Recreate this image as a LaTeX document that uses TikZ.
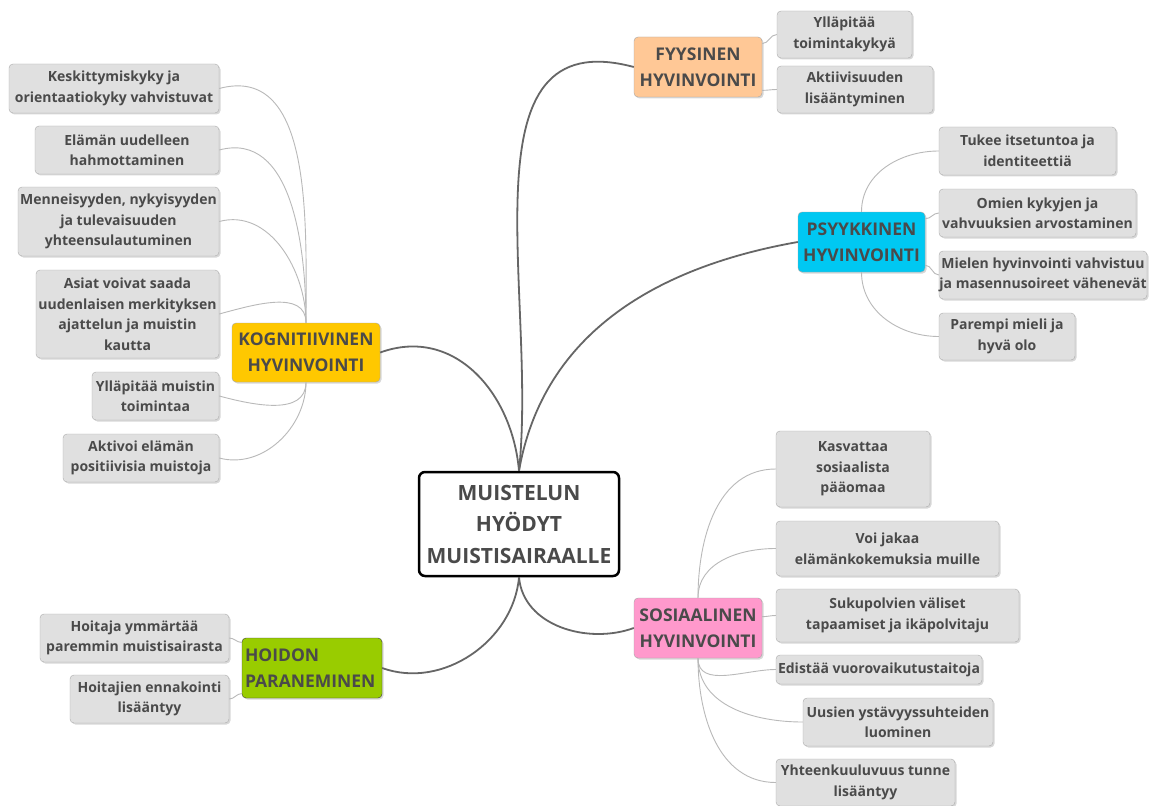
\documentclass[tikz,border=0pt]{standalone}
\usepackage{fontspec}
\setmainfont{Open Sans}
\usepackage{xcolor}
\usetikzlibrary{positioning, shadows}

\definecolor{inkgray}{HTML}{4A4A4A}
\definecolor{leafgray}{HTML}{E0E0E0}
\definecolor{kogyellow}{HTML}{FFC800}
\definecolor{fyyorange}{HTML}{FFC896}
\definecolor{psycyan}{HTML}{00C8F2}
\definecolor{sospink}{HTML}{FF99CC}
\definecolor{hoigreen}{HTML}{99CC00}

\begin{document}
\begin{tikzpicture}[x=1pt, y=1pt,
  leaf/.style={draw=gray!65, fill=leafgray, rounded corners=4pt, inner sep=0pt,
    font=\fontsize{14}{20.5}\selectfont\bfseries, text=inkgray, align=center,
    drop shadow={shadow xshift=1.5pt, shadow yshift=-1.5pt, fill=gray!60, opacity=.5}},
  topic/.style={draw=black!35, rounded corners=4pt, inner sep=1pt,
    minimum width=128, minimum height=60,
    font=\fontsize{17.5}{26}\selectfont\bfseries, text=inkgray, align=center,
    drop shadow={shadow xshift=1.5pt, shadow yshift=-1.5pt, fill=gray!60, opacity=.5}},
  hub/.style={draw=black, line width=2.5pt, fill=white, rounded corners=6pt,
    minimum width=200, minimum height=104, inner sep=1pt,
    font=\fontsize{21}{31.5}\selectfont\bfseries, text=inkgray, align=center},
  twig/.style={draw=gray!55, line width=0.9pt},
  branch/.style={draw=black!60, line width=1.8pt}
]

  \useasboundingbox (0,0) rectangle (1158,-805);
  \fill[white] (0,0) rectangle (1158,-805);

  % Centre
  \node[hub] (hub) at (519,-524) {MUISTELUN\\HYÖDYT\\MUISTISAIRAALLE};

  % Main topics
  \node[topic, fill=kogyellow, minimum width=148, minimum height=59] (kog) at (306,-352.5) {KOGNITIIVINEN\\HYVINVOINTI};
  \node[topic, fill=fyyorange] (fyy) at (698,-67) {FYYSINEN\\HYVINVOINTI};
  \node[topic, fill=psycyan, minimum width=127] (psy) at (861.5,-242) {PSYYKKINEN\\HYVINVOINTI};
  \node[topic, fill=sospink] (sos) at (698,-628) {SOSIAALINEN\\HYVINVOINTI};
  \node[topic, fill=hoigreen, draw=black!75, minimum width=140, align=left, text width=134] (hoi) at (312,-668) {HOIDON\\PARANEMINEN};

  % Kognitiivinen hyvinvointi
  \node[leaf, minimum width=210, minimum height=49] (k1) at (114,-88.5) {Keskittymiskyky ja\\orientaatiokyky vahvistuvat};
  \node[leaf, minimum width=184, minimum height=48] (k2) at (127,-150) {Elämän uudelleen\\hahmottaminen};
  \node[leaf, minimum width=201, minimum height=69] (k3) at (118.5,-221.5) {Menneisyyden, nykyisyyden\\ja tulevaisuuden\\yhteensulautuminen};
  \node[leaf, minimum width=183, minimum height=88] (k4) at (127.5,-314) {Asiat voivat saada\\uudenlaisen merkityksen\\ajattelun ja muistin\\kautta};
  \node[leaf, minimum width=127, minimum height=48] (k5) at (155.5,-396) {Ylläpitää muistin\\toimintaa};
  \node[leaf, minimum width=156, minimum height=48] (k6) at (141,-458) {Aktivoi elämän\\positiivisia muistoja};

  % Fyysinen hyvinvointi
  \node[leaf, minimum width=135, minimum height=47] (f1) at (844.5,-34.5) {Ylläpitää\\toimintakykyä};
  \node[leaf, minimum width=156, minimum height=47] (f2) at (855,-89.5) {Aktiivisuuden\\lisääntyminen};

  % Psyykkinen hyvinvointi
  \node[leaf, minimum width=177, minimum height=48] (p1) at (1027.5,-151) {Tukee itsetuntoa ja\\identiteettiä};
  \node[leaf, minimum width=197, minimum height=48] (p2) at (1037.5,-213) {Omien kykyjen ja\\vahvuuksien arvostaminen};
  \node[leaf, minimum width=208, minimum height=48] (p3) at (1043,-275) {Mielen hyvinvointi vahvistuu\\ja masennusoireet vähenevät};
  \node[leaf, minimum width=136, minimum height=47] (p4) at (1007,-336.5) {Parempi mieli ja\\hyvä olo};

  % Sosiaalinen hyvinvointi
  \node[leaf, minimum width=154, minimum height=76] (s1) at (853,-469) {Kasvattaa\\sosiaalista\\pääomaa};
  \node[leaf, minimum width=223, minimum height=55] (s2) at (887.5,-548.5) {Voi jakaa\\elämänkokemuksia muille};
  \node[leaf, minimum width=243, minimum height=53] (s3) at (897.5,-615.5) {Sukupolvien väliset\\tapaamiset ja ikäpolvitaju};
  \node[leaf, minimum width=206, minimum height=29] (s4) at (879,-669.5) {Edistää vuorovaikutustaitoja};
  \node[leaf, minimum width=190, minimum height=48] (s5) at (898,-722) {Uusien ystävyyssuhteiden\\luominen};
  \node[leaf, minimum width=179, minimum height=47] (s6) at (865.5,-782.5) {Yhteenkuuluvuus tunne\\lisääntyy};

  % Hoidon paraneminen
  \node[leaf, minimum width=189, minimum height=48] (h1) at (134.5,-638) {Hoitaja ymmärtää\\paremmin muistisairasta};
  \node[leaf, minimum width=159, minimum height=48] (h2) at (149.5,-699) {Hoitajien ennakointi\\lisääntyy};

  % Branches from the centre
  \draw[branch] (hub.north) to[out=95, in=20, looseness=1.1] (kog.east);
  \draw[branch] (hub.north) to[out=84, in=165, looseness=1.1] (fyy.west);
  \draw[branch] (hub.north) to[out=80, in=190] (psy.west);
  \draw[branch] (hub.south) to[out=-85, in=200] (sos.west);
  \draw[branch] (hub.south) to[out=-95, in=-20] (hoi.east);

  % Twigs
  \foreach \leaf in {k1,k2,k3,k4}
    \draw[twig] (\leaf.east) to[out=15, in=90] (kog.north);
  \foreach \leaf in {k5,k6}
    \draw[twig] (\leaf.east) to[out=-15, in=-90] (kog.south);
  \draw[twig] (fyy.20) to[out=0, in=180] (f1.west);
  \draw[twig] (fyy.-20) to[out=0, in=180] (f2.west);
  \draw[twig] (psy.north) to[out=90, in=180] (p1.west);
  \draw[twig] (psy.20) to[out=0, in=180] (p2.west);
  \draw[twig] (psy.-20) to[out=0, in=180] (p3.west);
  \draw[twig] (psy.south) to[out=-90, in=180] (p4.west);
  \foreach \leaf in {s1,s2}
    \draw[twig] (sos.north) to[out=90, in=180] (\leaf.west);
  \draw[twig] (sos.10) to[out=0, in=180] (s3.west);
  \foreach \leaf in {s4,s5,s6}
    \draw[twig] (sos.south) to[out=-90, in=180] (\leaf.west);
  \draw[twig] (h1.east) to[out=0, in=180] (hoi.160);
  \draw[twig] (h2.east) to[out=0, in=180] (hoi.200);

\end{tikzpicture}
\end{document}
